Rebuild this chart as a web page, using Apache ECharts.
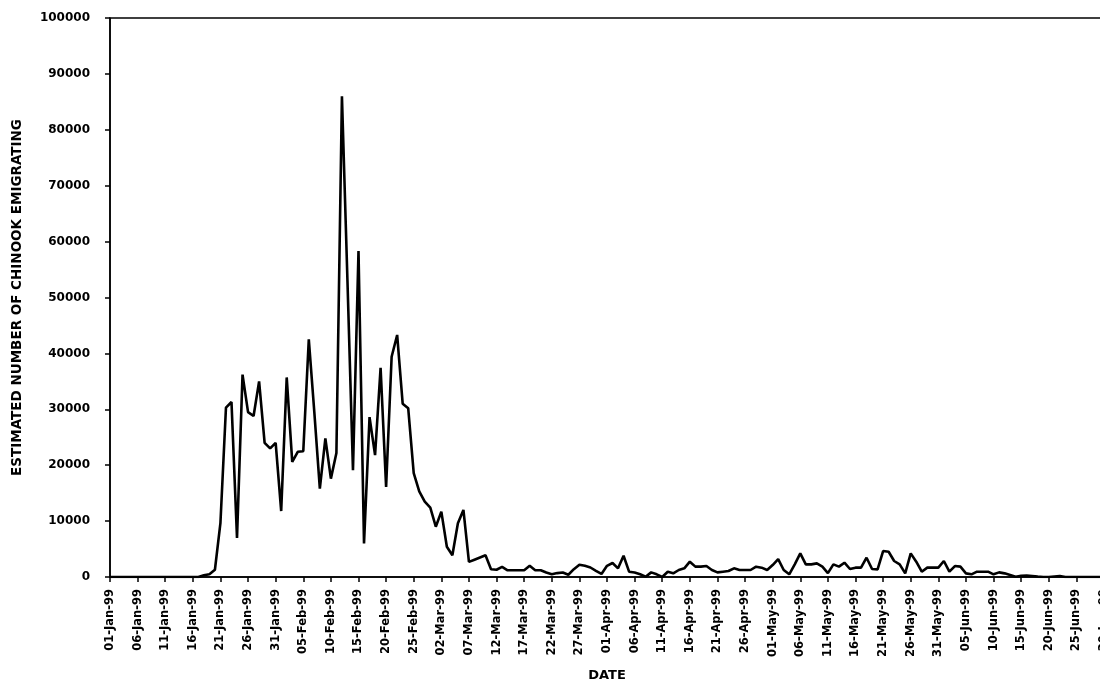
<!DOCTYPE html>
<html>
<head>
<meta charset="utf-8">
<title>Chinook emigrating</title>
<script src="https://cdn.jsdelivr.net/npm/echarts@6/dist/echarts.min.js"></script>
<style>
  html, body { margin: 0; padding: 0; background: #fff; }
  #chart { width: 1100px; height: 682px; }
</style>
</head>
<body>
<div id="chart"></div>
<script>
// daily estimates (1999)
const monthNames = ["Jan", "Feb", "Mar", "Apr", "May", "Jun"];
const monthDays = [31, 28, 31, 30, 31, 30];

const janValues = [0, 0, 0, 0, 0, 0, 0, 0, 0, 0, 0, 0, 0, 0, 0, 0, 0,
    300, 500, 1300, 9700, 30300, 31300, 7000, 36200, 29500, 28800, 35000, 24000, 23000, 24000];
const febValues = [11800, 35700, 20600, 22400, 22500, 42500, 29500, 15800, 24800, 17600,
    22200, 86000, 53000, 19100, 58300, 6000, 28600, 21800, 37400, 16100,
    39400, 43300, 31000, 30200, 18600, 15300, 13500, 12400];
const marValues = [9000, 11700, 5400, 3900, 9600, 12000, 2700, 3100, 3500, 3900,
    1400, 1300, 1800, 1200, 1200, 1200, 1200, 2000, 1200, 1200,
    800, 500, 700, 800, 400, 1400, 2200, 2000, 1700, 1100, 540];
const aprValues = [2000, 2500, 1550, 3800, 950, 800, 480, 60, 830, 480,
    0, 950, 650, 1250, 1550, 2740, 1850, 1850, 1960, 1250,
    830, 950, 1070, 1550, 1250, 1250, 1250, 1850, 1670, 1250];
const mayValues = [2140, 3210, 1250, 480, 2260, 4230, 2260, 2260, 2440, 1850,
    700, 2260, 1850, 2560, 1430, 1670, 1670, 3450, 1430, 1370,
    4640, 4520, 2860, 2260, 650, 4230, 2740, 950, 1670, 1670, 1670];
const junValues = [2860, 950, 1960, 1850, 650, 480, 950, 950, 950, 480,
    830, 650, 360, 60, 200, 240, 180, 60, 0, 0,
    100, 180, 0, 0, 0, 0, 0, 0, 0, 0];

const yTicks = { min: 0, max: 100000, interval: 10000 };

const buildDates = () => {
    const dates = [];
    monthNames.forEach((m, i) => {
        for (let d = 1; d <= monthDays[i]; d++) {
            dates.push(String(d).padStart(2, "0") + "-" + m + "-99");
        }
    });
    return dates;
};

const getOptionChart = () => {
    const dates = buildDates();
    const values = [].concat(janValues, febValues, marValues, aprValues, mayValues, junValues);
    const font = "DejaVu Sans";
    return {
        animation: false,
        backgroundColor: "#fff",
        grid: {
            left: 110, right: -4, top: 18, bottom: 105,
            containLabel: false,
            outerBoundsMode: "none",
            show: true, borderColor: "#000", borderWidth: 1.5
        },
        xAxis: {
            type: "category",
            data: dates,
            boundaryGap: false,
            name: "DATE",
            nameLocation: "middle",
            nameGap: 92,
            nameTextStyle: { fontFamily: font, fontWeight: "bold", fontSize: 13, color: "#000" },
            axisLine: { lineStyle: { color: "#000", width: 1.5 } },
            axisTick: { interval: 4, length: 5, lineStyle: { color: "#000", width: 1.5 } },
            axisLabel: {
                interval: 4, rotate: 90, margin: 12,
                fontFamily: font, fontWeight: "bold", fontSize: 11.5, color: "#000"
            },
            splitLine: { show: false }
        },
        yAxis: {
            type: "value",
            min: yTicks.min, max: yTicks.max, interval: yTicks.interval,
            name: "ESTIMATED NUMBER OF CHINOOK EMIGRATING",
            nameLocation: "middle",
            nameRotate: 90,
            nameGap: 86,
            nameTextStyle: { fontFamily: font, fontWeight: "bold", fontSize: 13.5, color: "#000" },
            axisLine: { show: true, lineStyle: { color: "#000", width: 1.5 } },
            axisTick: { show: true, length: 5, lineStyle: { color: "#000", width: 1.5 } },
            axisLabel: {
                margin: 20, fontFamily: font, fontWeight: "bold", fontSize: 12, color: "#000",
                formatter: (v) => String(v)
            },
            splitLine: { show: false }
        },
        series: [{
            type: "line",
            data: values,
            showSymbol: false,
            lineStyle: { color: "#000", width: 2.6 },
            itemStyle: { color: "#000" }
        }]
    };
};

const initChart = () => {
    const myChart = echarts.init(document.getElementById("chart"));
    myChart.setOption(getOptionChart());
    myChart.resize();
};

window.addEventListener("load", () => {
    initChart();
});
</script>
</body>
</html>
